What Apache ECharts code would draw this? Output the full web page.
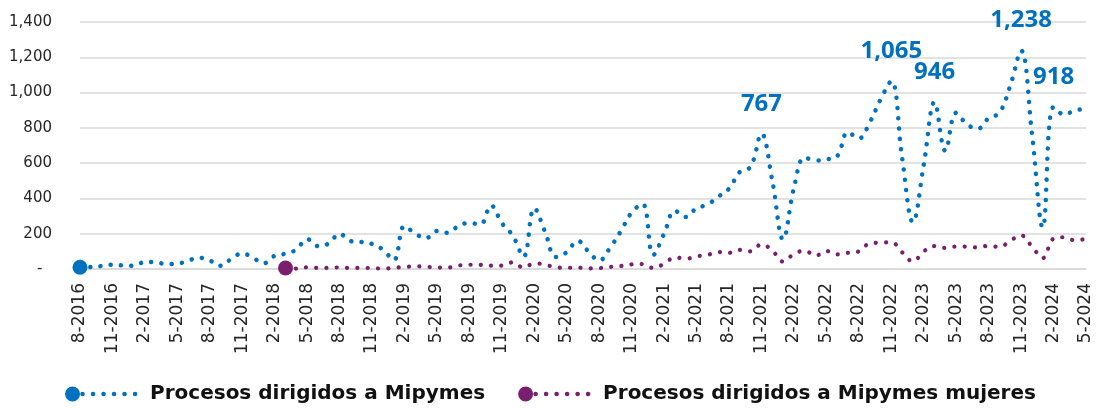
<!DOCTYPE html>
<html>
<head>
<meta charset="utf-8">
<script src="https://cdn.jsdelivr.net/npm/echarts@6/dist/echarts.min.js"></script>
<style>
  html, body { margin: 0; padding: 0; background: #fff; }
  #chart { width: 1101px; height: 408px; }
</style>
</head>
<body>
<div id="chart"></div>
<script>
// monthly categories, 8-2016 .. 5-2024
let months = [];
for (let y = 2016, m = 8; y < 2024 || (y === 2024 && m <= 5); ) {
  months.push(m + '-' + y);
  m++;
  if (m > 12) { m = 1; y++; }
}

// Procesos dirigidos a Mipymes (one value per month from 8-2016)
let mipymes = [
  10, 11, 17, 24, 20, 18, 40, 38, 28, 30, 48, 64, 48, 18, 58, 89, 63, 33, 75, 87,
  110, 170, 130, 145, 200, 158, 153, 142, 110, 50, 244, 200, 175, 215, 205, 245, 261, 252, 360, 260,
  190, 70, 345, 210, 68, 95, 160, 100, 48, 120, 215, 320, 370, 80, 200, 330, 295, 345, 365, 410,
  455, 550, 580, 767, 500, 168, 460, 632, 615, 622, 640, 775, 740, 830, 960, 1065, 630, 265, 590, 946,
  670, 885, 820, 795, 855, 885, 1040, 1238, 770, 235, 918, 875, 900, 905
];

// Procesos dirigidos a Mipymes mujeres (starts 3-2018)
let mujeresStart = '3-2018';
let mujeres = [
  6, 2, 10, 6, 6, 9, 6, 6, 5, 2, 6, 12, 15, 13, 8, 8, 20, 24, 23, 19,
  19, 38, 8, 31, 26, 8, 7, 8, 3, 5, 12, 17, 26, 28, 6, 30, 66, 58, 72, 80,
  96, 92, 108, 100, 140, 105, 42, 85, 104, 76, 102, 83, 92, 100, 145, 149, 152, 95, 43, 100,
  130, 120, 127, 126, 122, 132, 125, 160, 190, 128, 62, 172, 180, 162, 172
];

// months whose value is written on the chart
let labeledMonths = ['11-2021', '11-2022', '3-2023', '11-2023', '2-2024'];

let yMin = 0, yMax = 1400, yStep = 200;

let blue = '#0070c0';
let purple = '#7a1f6e';
let names = ['Procesos dirigidos a Mipymes', 'Procesos dirigidos a Mipymes mujeres'];

function fmt(v) {
  return String(v).replace(/\B(?=(\d{3})+(?!\d))/g, ',');
}

let startIdx = months.indexOf(mujeresStart);
let mujeresData = months.map((m, i) => (i < startIdx ? null : mujeres[i - startIdx]));
let mipymesData = mipymes.map((v, i) =>
  labeledMonths.includes(months[i]) ? { value: v, label: { show: true } } : v
);

// legend icon: big marker followed by small dots
let icon = 'path://M0,7.5a7.5,7.5 0 1,0 15,0a7.5,7.5 0 1,0 -15,0Z';
[17.5, 28, 38.5, 49, 59.5, 70].forEach(cx => {
  icon += 'M' + (cx - 2.3) + ',7.5a2.3,2.3 0 1,0 4.6,0a2.3,2.3 0 1,0 -4.6,0Z';
});
icon += 'M80,7.5';

var myChart = echarts.init(document.getElementById('chart'));

var option = {
  animation: false,
  grid: { left: 80, right: 15, top: 22, bottom: 139 },
  legend: {
    top: 379,
    left: 'center',
    itemWidth: 80,
    itemHeight: 15,
    itemGap: 33,
    textStyle: { fontFamily: 'DejaVu Sans', fontWeight: 'bold', fontSize: 20, color: '#111' },
    data: [
      { name: names[0], icon: icon },
      { name: names[1], icon: icon }
    ]
  },
  xAxis: {
    type: 'category',
    data: months,
    boundaryGap: false,
    axisLine: { lineStyle: { color: '#d9d9d9', width: 1.5 } },
    axisTick: { show: false },
    axisLabel: {
      interval: 2,
      rotate: 90,
      margin: 14,
      fontFamily: 'DejaVu Sans',
      fontSize: 17,
      color: '#262626'
    }
  },
  yAxis: {
    type: 'value',
    min: yMin,
    max: yMax,
    interval: yStep,
    axisLine: { show: false },
    axisTick: { show: false },
    splitLine: { lineStyle: { color: '#d9d9d9', width: 1.5 } },
    axisLabel: {
      margin: 28,
      fontFamily: 'DejaVu Sans',
      fontSize: 15,
      color: '#262626',
      formatter: v => (v === 0 ? '-  ' : fmt(v))
    }
  },
  series: [
    {
      name: names[0],
      type: 'line',
      data: mipymesData,
      smooth: 0.4,
      symbol: 'circle',
      showAllSymbol: true,
      symbolSize: (v, p) => (p.dataIndex === 0 ? 15 : 0),
      itemStyle: { color: blue },
      lineStyle: { color: blue, width: 4.5, type: [0.1, 10.2], cap: 'round' },
      label: {
        show: false,
        position: 'top',
        distance: 18,
        formatter: p => fmt(p.value),
        color: blue,
        fontFamily: 'Open Sans',
        fontWeight: 'bold',
        fontSize: 24
      },
      emphasis: { disabled: true },
      z: 3
    },
    {
      name: names[1],
      type: 'line',
      data: mujeresData,
      smooth: 0.4,
      symbol: 'circle',
      showAllSymbol: true,
      symbolSize: (v, p) => (p.dataIndex === startIdx ? 15 : 0),
      itemStyle: { color: purple },
      lineStyle: { color: purple, width: 4.2, type: [0.1, 10.2], cap: 'round' },
      emphasis: { disabled: true },
      z: 2
    }
  ]
};

option && myChart.setOption(option);
</script>
</body>
</html>
